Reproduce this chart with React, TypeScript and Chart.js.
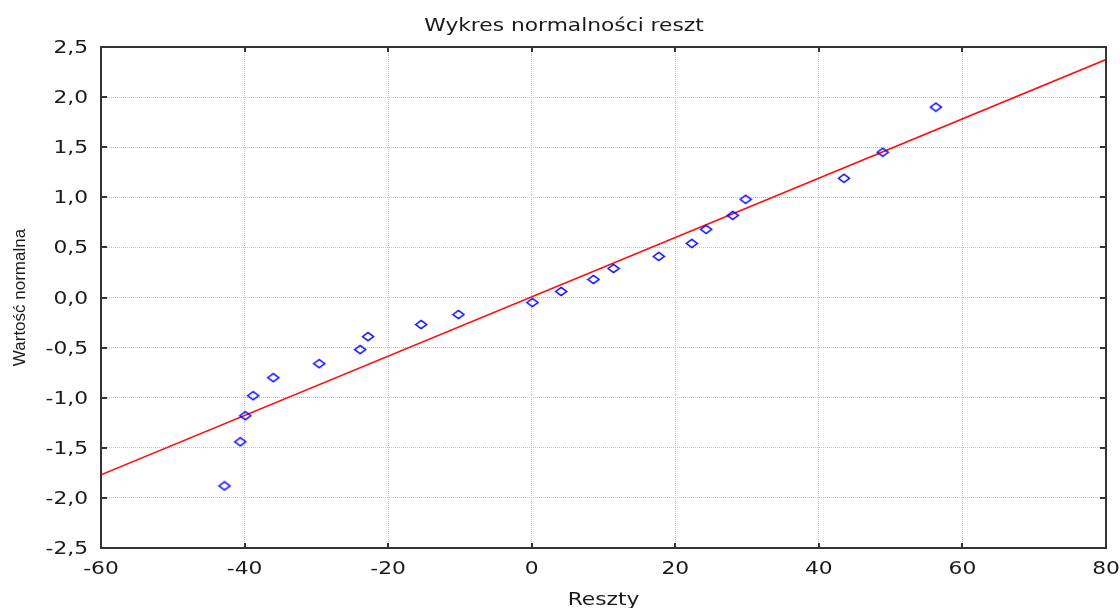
import { useEffect, useRef } from "react";
import { Chart, registerables } from "chart.js";

Chart.register(...registerables);

// Residuals (x) against their expected normal values (y)
const residuals = [
  -42.8, -40.6, -39.9, -38.8, -36.0, -29.6, -23.9, -22.8, -15.4, -10.2, 0.1,
  4.1, 8.6, 11.4, 17.7, 22.3, 24.3, 28.0, 29.8, 43.5, 48.9, 56.3,
];
const normalValues = [
  -1.88, -1.44, -1.18, -0.98, -0.8, -0.66, -0.52, -0.39, -0.27, -0.17, -0.05,
  0.06, 0.18, 0.29, 0.41, 0.54, 0.68, 0.82, 0.98, 1.19, 1.45, 1.9,
];

// Reference line end points
const fitLineX = [-60, 80];
const fitLineY = [-1.77, 2.375];

const xTickValues = [-60, -40, -20, 0, 20, 40, 60, 80];
const yTickValues = [-2.5, -2.0, -1.5, -1.0, -0.5, 0.0, 0.5, 1.0, 1.5, 2.0, 2.5];

const chartTitle = "Wykres normalności reszt";
const xTitle = "Reszty";
const yTitle = "Wartość normalna";

const W = 1120;
const H = 608;
const PLOT_LEFT = 101;
const PLOT_RIGHT = 1106;
const PLOT_TOP = 47;
const PLOT_BOTTOM = 548;

// horizontal text is drawn wide, in the style of the classic statistics package
const TEXT_STRETCH = 1.28;
const TEXT_FONT = "17px 'DejaVu Sans'";
const TEXT_COLOR = "#1a1a1a";

const fmt = (v: number, digits: number) => v.toFixed(digits).replace(".", ",");

// flat hollow diamond marker
function makeDiamond(): HTMLCanvasElement {
  const c = document.createElement("canvas");
  c.width = 14;
  c.height = 11;
  const g = c.getContext("2d")!;
  g.strokeStyle = "#0000ff";
  g.lineWidth = 1.5;
  g.beginPath();
  g.moveTo(1.5, 5.5);
  g.lineTo(7, 1.5);
  g.lineTo(12.5, 5.5);
  g.lineTo(7, 9.5);
  g.closePath();
  g.stroke();
  return c;
}

function wideText(
  ctx: CanvasRenderingContext2D,
  text: string,
  x: number,
  y: number,
  align: CanvasTextAlign
) {
  ctx.save();
  ctx.translate(x, y);
  ctx.scale(TEXT_STRETCH, 1);
  ctx.textAlign = align;
  ctx.fillText(text, 0, 0);
  ctx.restore();
}

const framePlugin = {
  id: "frameAndTitles",
  afterDraw(chart: any) {
    const ctx = chart.ctx as CanvasRenderingContext2D;
    const { left, right, top, bottom } = chart.chartArea;
    const xs = chart.scales.x;
    const ys = chart.scales.y;

    ctx.save();
    ctx.strokeStyle = "#333333";
    ctx.lineWidth = 2;
    ctx.strokeRect(left, top, right - left, bottom - top);

    ctx.beginPath();
    xs.ticks.forEach((t: any) => {
      const px = Math.round(xs.getPixelForValue(t.value));
      ctx.moveTo(px, top);
      ctx.lineTo(px, top + 5);
      ctx.moveTo(px, bottom);
      ctx.lineTo(px, bottom - 5);
    });
    ys.ticks.forEach((t: any) => {
      const py = Math.round(ys.getPixelForValue(t.value));
      ctx.moveTo(left, py);
      ctx.lineTo(left + 6, py);
      ctx.moveTo(right, py);
      ctx.lineTo(right - 6, py);
    });
    ctx.stroke();

    ctx.fillStyle = TEXT_COLOR;
    ctx.textBaseline = "alphabetic";
    ctx.font = TEXT_FONT;

    // tick labels, placed through the chart's own scales
    xs.ticks.forEach((t: any) => {
      const px = xs.getPixelForValue(t.value);
      wideText(ctx, fmt(t.value, 0), px, 574, "center");
    });
    ys.ticks.forEach((t: any) => {
      const py = ys.getPixelForValue(t.value);
      wideText(ctx, fmt(t.value, 1), left - 13, py + 6, "right");
    });

    wideText(ctx, chartTitle, 564, 31, "center");
    wideText(ctx, xTitle, (left + right) / 2, 605, "center");

    ctx.font = "17px 'Liberation Sans'";
    ctx.textAlign = "center";
    ctx.translate(25, (top + bottom) / 2);
    ctx.rotate(-Math.PI / 2);
    ctx.fillText(yTitle, 0, 0);
    ctx.restore();
  },
};

export default function App() {
  const canvasRef = useRef<HTMLCanvasElement | null>(null);

  useEffect(() => {
    const canvas = canvasRef.current;
    if (!canvas) return;

    const points = residuals.map((x, i) => ({ x, y: normalValues[i] }));
    const line = fitLineX.map((x, i) => ({ x, y: fitLineY[i] }));
    const diamond = makeDiamond();

    const chart = new Chart(canvas, {
      type: "scatter",
      data: {
        datasets: [
          {
            label: "Reszty",
            data: points,
            pointStyle: diamond,
            pointRadius: 5,
            pointHoverRadius: 5,
            borderColor: "#0000ff",
            backgroundColor: "rgba(0,0,0,0)",
            borderWidth: 1.3,
          },
          {
            label: "Linia",
            type: "line",
            data: line,
            borderColor: "#ff1010",
            borderWidth: 1.6,
            pointRadius: 0,
            fill: false,
          } as any,
        ],
      },
      options: {
        responsive: false,
        animation: false,
        events: [],
        layout: { padding: { top: PLOT_TOP, left: 0, right: W - PLOT_RIGHT, bottom: 0 } },
        plugins: {
          legend: { display: false },
          tooltip: { enabled: false },
          title: { display: false },
        },
        scales: {
          x: {
            type: "linear",
            min: -60,
            max: 80,
            afterBuildTicks: (scale: any) => {
              scale.ticks = xTickValues.map((value) => ({ value }));
            },
            afterFit: (scale: any) => {
              scale.height = H - PLOT_BOTTOM;
              scale.paddingLeft = 0;
              scale.paddingRight = 0;
            },
            ticks: { display: false, autoSkip: false },
            grid: { color: "#c2c2c2", lineWidth: 1, drawTicks: false },
            border: { display: false, dash: [1, 1] },
          },
          y: {
            type: "linear",
            min: -2.5,
            max: 2.5,
            afterBuildTicks: (scale: any) => {
              scale.ticks = yTickValues.map((value) => ({ value }));
            },
            afterFit: (scale: any) => {
              scale.width = PLOT_LEFT;
              scale.paddingTop = 0;
              scale.paddingBottom = 0;
            },
            ticks: { display: false, autoSkip: false },
            grid: { color: "#c2c2c2", lineWidth: 1, drawTicks: false },
            border: { display: false, dash: [1, 1] },
          },
        },
      },
      plugins: [framePlugin],
    });

    return () => chart.destroy();
  }, []);

  return (
    <div style={{ position: "fixed", left: 0, top: 0, width: W, height: H, background: "#ffffff" }}>
      <canvas ref={canvasRef} width={W} height={H} />
    </div>
  );
}
